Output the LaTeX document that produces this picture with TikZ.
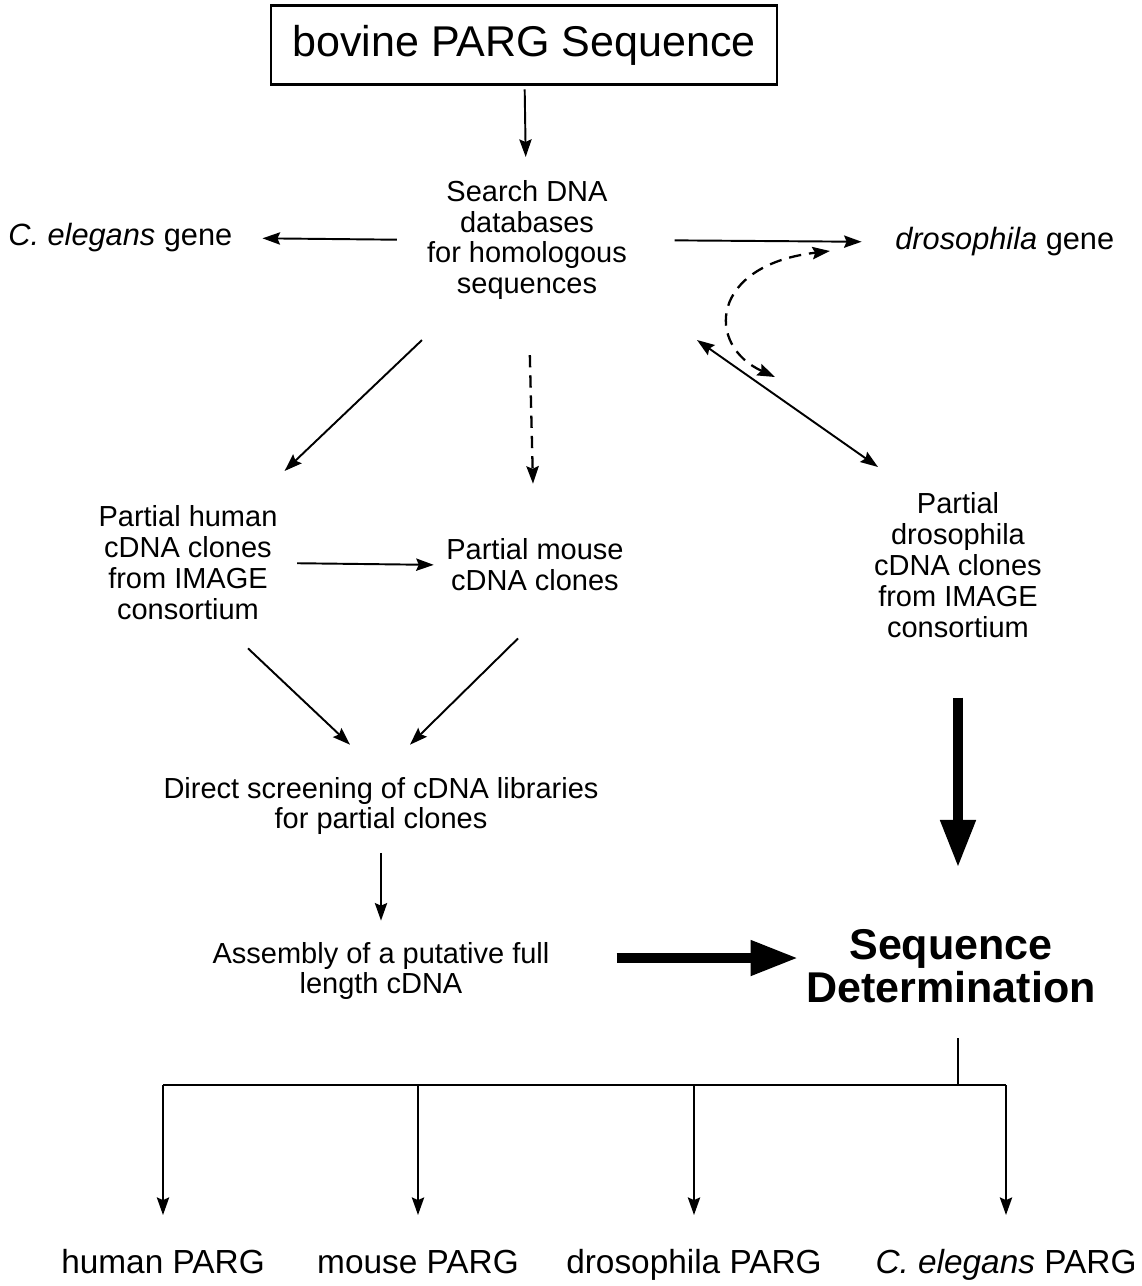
\documentclass[tikz,border=0pt]{standalone}
\usepackage{fontspec}
\setmainfont{Liberation Sans}
\usetikzlibrary{arrows.meta,calc}
\begin{document}
\begin{tikzpicture}[x=0.02cm,y=-0.02cm,
		txt/.style={align=center,inner sep=0pt,font=\fontsize{16.5}{17.6}\selectfont},
		side/.style={inner sep=0pt,font=\fontsize{17.5}{20}\selectfont},
		outcome/.style={inner sep=0pt,anchor=base,font=\fontsize{19}{22}\selectfont},
		thin/.style={line width=1.1pt},
		arr/.style={thin,-{Stealth[length=10pt,width=7pt,inset=1.5pt]}},
		twoarr/.style={thin,{Stealth[length=10pt,width=7pt,inset=1.5pt]}-{Stealth[length=10pt,width=7pt,inset=1.5pt]}},
		dasharr/.style={line width=1.3pt,dash pattern=on 7pt off 4.5pt,-{Stealth[length=10pt,width=7pt,inset=1.5pt]}},
		dashtwo/.style={line width=1.3pt,dash pattern=on 7pt off 4.5pt,{Stealth[length=10pt,width=7pt,inset=1.5pt]}-{Stealth[length=10pt,width=7pt,inset=1.5pt]}},
		bigarr/.style={line width=5.5pt,-{Triangle[length=27pt,width=19pt]}}]
		\useasboundingbox (0,0) rectangle (1142,1286);
		\node[draw,line width=1.4pt,minimum width=288pt,minimum height=45pt,inner sep=0pt,font=\fontsize{24.5}{26}\selectfont] (bovine) at (524,45) {bovine PARG Sequence};
		\node[txt] (search) at (527,240) {Search DNA\\databases\\for homologous\\sequences};
		\node[side,anchor=west] (celeg) at (8,238) {\textit{C. elegans} gene};
		\node[side,anchor=west] (drosg) at (895,242) {\textit{drosophila} gene};
		\node[txt] (human) at (188,563) {Partial human\\cDNA clones\\from IMAGE\\consortium};
		\node[txt] (mouse) at (535,565) {Partial mouse\\cDNA clones};
		\node[txt] (dros) at (958,565) {Partial\\drosophila\\cDNA clones\\from IMAGE\\consortium};
		\node[txt] (direct) at (381,806) {Direct screening of cDNA libraries\\for partial clones};
		\node[txt] (assembly) at (381,971) {Assembly of a putative full\\length cDNA};
		\node[align=center,inner sep=0pt,font=\bfseries\fontsize{24.5}{24.5}\selectfont] (seqdet) at (951,966) {Sequence\\Determination};
		\node[outcome] (hp) at (163,1273) {human PARG};
		\node[outcome] (mp) at (418,1273) {mouse PARG};
		\node[outcome] (dp) at (694,1273) {drosophila PARG};
		\node[outcome] (cp) at (1006,1273) {\textit{C. elegans} PARG};
		\coordinate (dA) at (697,340);
		\coordinate (dB) at (878,467);
		\coordinate (cA) at (775,377);
		\coordinate (cB) at (830,251);
		\coordinate (bus) at (958,1085);
		\coordinate (tips) at (0,1215);
		\draw[arr,shorten <=2pt,shorten >=13pt] (bovine) -- (search);
		\draw[arr,shorten <=17pt,shorten >=17pt] (search.west) -- (celeg.east);
		\draw[arr,shorten <=27pt,shorten >=19pt] (search.east) -- (drosg.west);
		\draw[arr] ($(search)!0.31!(human)$) -- ($(search)!0.715!(human)$);
		\draw[dasharr] ($(search)!0.354!(mouse)$) -- ($(search)!0.75!(mouse)$);
		\draw[twoarr] (dA) -- (dB);
		\draw[dashtwo] (cA) .. controls (705,345) and (710,265) .. (cB);
		\draw[arr,shorten <=11pt,shorten >=7pt] (human.east) -- (mouse.west);
		\draw[arr] ($(human.south)+(60,28)$) -- ($(direct.north)+(-31,-32)$);
		\draw[arr] ($(mouse.south)+(-17,47)$) -- ($(direct.north)+(29,-32)$);
		\draw[arr,shorten <=10pt,shorten >=12pt] (direct) -- (assembly);
		\draw[bigarr] ($(assembly.east)+(67,-13)$) -- ($(seqdet.west)+(-8,-8)$);
		\draw[bigarr,shorten <=34pt,shorten >=35pt] (dros.south) -- (dros.south |- seqdet.north);
		\draw[thin,shorten <=20pt] (bus |- seqdet.south) -- (bus);
		\draw[thin] (hp |- bus) -- (cp |- bus);
		\foreach \n in {hp,mp,dp,cp}
			\draw[arr] (\n |- bus) -- (\n |- tips);
	\end{tikzpicture}
\end{document}
